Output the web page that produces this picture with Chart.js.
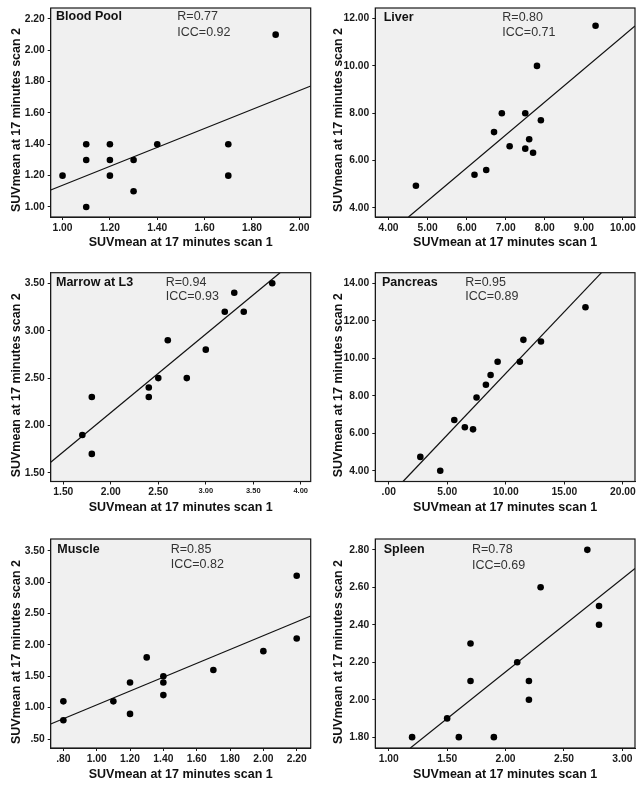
<!DOCTYPE html>
<html><head><meta charset="utf-8">
<script src="https://cdn.jsdelivr.net/npm/chart.js@4.4.1/dist/chart.umd.min.js"></script>
<style>
html,body{margin:0;padding:0;background:#fff;}
#wrap{position:relative;width:644px;height:788px;overflow:hidden;}
.cell{position:absolute;}
</style></head><body><div id="wrap"></div>
<script>
// ---------- DATA ----------
const xAxisTitle = 'SUVmean at 17 minutes scan 1';
const yAxisTitle = 'SUVmean at 17 minutes scan 2';
const panelNames = ['Blood Pool', 'Liver', 'Marrow at L3', 'Pancreas', 'Muscle', 'Spleen'];
const rValues = ['0.77', '0.80', '0.94', '0.95', '0.85', '0.78'];
const iccValues = ['0.92', '0.71', '0.93', '0.89', '0.82', '0.69'];

const bloodPoolScan1 = [1.0, 1.1, 1.1, 1.1, 1.2, 1.2, 1.2, 1.3, 1.3, 1.4, 1.7, 1.7, 1.9];
const bloodPoolScan2 = [1.2, 1.4, 1.3, 1.0, 1.4, 1.3, 1.2, 1.3, 1.1, 1.4, 1.4, 1.2, 2.1];
const liverScan1 = [4.7, 6.2, 6.5, 6.7, 6.9, 7.1, 7.5, 7.5, 7.6, 7.7, 7.8, 7.9, 9.3];
const liverScan2 = [4.93, 5.4, 5.6, 7.2, 8.0, 6.6, 8.0, 6.5, 6.9, 6.33, 10.0, 7.7, 11.7];
const marrowScan1 = [1.7, 1.8, 1.8, 2.4, 2.4, 2.5, 2.6, 2.8, 3.0, 3.2, 3.3, 3.4, 3.7];
const marrowScan2 = [1.9, 2.3, 1.7, 2.4, 2.3, 2.5, 2.9, 2.5, 2.8, 3.2, 3.4, 3.2, 3.5];
const pancreasScan1 = [2.7, 4.4, 5.6, 6.5, 7.2, 7.5, 8.3, 8.7, 9.3, 11.2, 11.5, 13.0, 16.8];
const pancreasScan2 = [4.74, 4.0, 6.71, 6.32, 6.21, 7.91, 8.59, 9.11, 9.81, 9.81, 10.98, 10.89, 12.72];
const muscleScan1 = [0.8, 0.8, 1.1, 1.2, 1.2, 1.3, 1.4, 1.4, 1.4, 1.7, 2.0, 2.2, 2.2];
const muscleScan2 = [1.1, 0.8, 1.1, 1.4, 0.9, 1.8, 1.5, 1.4, 1.2, 1.6, 1.9, 3.1, 2.1];
const spleenScan1 = [1.2, 1.5, 1.6, 1.7, 1.7, 1.9, 2.1, 2.2, 2.2, 2.3, 2.7, 2.8, 2.8];
const spleenScan2 = [1.8, 1.9, 1.8, 2.3, 2.1, 1.8, 2.2, 2.1, 2.0, 2.6, 2.8, 2.5, 2.4];

// fit-line end points
const bloodPoolFitX = [0.95, 2.048];   const bloodPoolFitY = [1.108, 1.772];
const liverFitX = [4.51, 10.31];       const liverFitY = [3.61, 11.69];
const marrowFitX = [1.367, 3.782];     const marrowFitY = [1.613, 3.612];
const pancreasFitX = [1.22, 18.17];    const pancreasFitY = [3.43, 14.56];
const muscleFitX = [0.724, 2.284];     const muscleFitY = [0.739, 2.459];
const spleenFitX = [1.185, 3.108];     const spleenFitY = [1.742, 2.70];

// axis tick labels
const bloodPoolXTicks = [1.0, 1.2, 1.4, 1.6, 1.8, 2.0];
const bloodPoolYTicks = [1.0, 1.2, 1.4, 1.6, 1.8, 2.0, 2.2];
const liverXTicks = [4, 5, 6, 7, 8, 9, 10];
const liverYTicks = [4, 6, 8, 10, 12];
const marrowXTicks = [1.5, 2.0, 2.5, 3.0, 3.5, 4.0];
const marrowYTicks = [1.5, 2.0, 2.5, 3.0, 3.5];
const pancreasXTicks = [0, 5, 10, 15, 20];
const pancreasYTicks = [4, 6, 8, 10, 12, 14];
const muscleXTicks = [0.8, 1.0, 1.2, 1.4, 1.6, 1.8, 2.0, 2.2];
const muscleYTicks = [0.5, 1.0, 1.5, 2.0, 2.5, 3.0, 3.5];
const spleenXTicks = [1.0, 1.5, 2.0, 2.5, 3.0];
const spleenYTicks = [1.8, 2.0, 2.2, 2.4, 2.6, 2.8];

// axis ranges
const bloodPoolXRange = [0.95, 2.048];  const bloodPoolYRange = [0.936, 2.27];
const liverXRange = [3.66, 10.31];      const liverYRange = [3.61, 12.45];
const marrowXRange = [1.367, 4.105];    const marrowYRange = [1.409, 3.612];
const pancreasXRange = [-1.145, 21.03]; const pancreasYRange = [3.43, 14.56];
const muscleXRange = [0.724, 2.284];    const muscleYRange = [0.357, 3.686];
const spleenXRange = [0.885, 3.108];    const spleenYRange = [1.742, 2.858];

// ---------- LAYOUT ----------
const FONT = '"Liberation Sans", Arial, Helvetica, sans-serif';
const rows = [
  {y: 0,   h: 262, top: 8,    bottom: 217,   xTitleC: 242.7, yTitleC: 120},
  {y: 262, h: 262, top: 10.7, bottom: 219.5, xTitleC: 246,   yTitleC: 123.3},
  {y: 524, h: 264, top: 15,   bottom: 224,   xTitleC: 250.7, yTitleC: 128}
];
const cols = [
  {x: 0,   w: 322, left: 50.7, right: 310.7, yTitleC: 16.2},
  {x: 322, w: 322, left: 53.3, right: 313,   yTitleC: 16.2}
];
const textPos = [
  {nx: 5.3, ny: 8.7,  rx: 126.6, ry: 8.7,  iy: 24.3},
  {nx: 8.4, ny: 9.7,  rx: 127,   ry: 9.7,  iy: 24.7},
  {nx: 5.3, ny: 10,   rx: 115,   ry: 10,   iy: 24.3},
  {nx: 6.7, ny: 10,   rx: 90,    ry: 10,   iy: 24.3},
  {nx: 6.6, ny: 10.3, rx: 120,   ry: 10.3, iy: 25.7},
  {nx: 8.4, ny: 11,   rx: 96.7,  ry: 11,   iy: 26.7}
];

const panels = [
  {s1: bloodPoolScan1, s2: bloodPoolScan2, fx: bloodPoolFitX, fy: bloodPoolFitY, xt: bloodPoolXTicks, yt: bloodPoolYTicks, xr: bloodPoolXRange, yr: bloodPoolYRange},
  {s1: liverScan1, s2: liverScan2, fx: liverFitX, fy: liverFitY, xt: liverXTicks, yt: liverYTicks, xr: liverXRange, yr: liverYRange},
  {s1: marrowScan1, s2: marrowScan2, fx: marrowFitX, fy: marrowFitY, xt: marrowXTicks, yt: marrowYTicks, xr: marrowXRange, yr: marrowYRange},
  {s1: pancreasScan1, s2: pancreasScan2, fx: pancreasFitX, fy: pancreasFitY, xt: pancreasXTicks, yt: pancreasYTicks, xr: pancreasXRange, yr: pancreasYRange},
  {s1: muscleScan1, s2: muscleScan2, fx: muscleFitX, fy: muscleFitY, xt: muscleXTicks, yt: muscleYTicks, xr: muscleXRange, yr: muscleYRange},
  {s1: spleenScan1, s2: spleenScan2, fx: spleenFitX, fy: spleenFitY, xt: spleenXTicks, yt: spleenYTicks, xr: spleenXRange, yr: spleenYRange}
];

function fmt(v) {
  let s = Number(v).toFixed(2);
  if (s.startsWith('0.')) s = s.slice(1);
  return s;
}

const boxPlugin = {
  id: 'panelBox',
  beforeDraw(chart) {
    const a = chart.chartArea, ctx = chart.ctx;
    ctx.save();
    ctx.fillStyle = '#f0f0f0';
    ctx.fillRect(a.left, a.top, a.right - a.left, a.bottom - a.top);
    ctx.restore();
  },
  afterDraw(chart, args, opts) {
    const a = chart.chartArea, ctx = chart.ctx;
    ctx.save();
    ctx.strokeStyle = '#1a1a1a';
    ctx.lineWidth = 1.2;
    ctx.strokeRect(a.left, a.top, a.right - a.left, a.bottom - a.top);
    ctx.textBaseline = 'middle';
    ctx.textAlign = 'left';
    ctx.fillStyle = '#111';
    ctx.font = 'bold 12.5px ' + FONT;
    ctx.fillText(opts.name, a.left + opts.pos.nx, a.top + opts.pos.ny);
    ctx.fillStyle = '#333';
    ctx.font = '12.5px ' + FONT;
    ctx.fillText('R=' + opts.r, a.left + opts.pos.rx, a.top + opts.pos.ry);
    ctx.fillText('ICC=' + opts.icc, a.left + opts.pos.rx, a.top + opts.pos.iy);
    // y-axis title (rotated)
    ctx.translate(opts.yTitleX, opts.yTitleY);
    ctx.rotate(-Math.PI / 2);
    ctx.textAlign = 'center';
    ctx.fillStyle = '#111';
    ctx.font = 'bold 12.5px ' + FONT;
    ctx.fillText(yAxisTitle, 0, 0);
    ctx.restore();
  }
};

const wrap = document.getElementById('wrap');
panels.forEach((p, i) => {
  const row = rows[Math.floor(i / 2)], col = cols[i % 2];
  const div = document.createElement('div');
  div.className = 'cell';
  div.style.left = col.x + 'px'; div.style.top = row.y + 'px';
  div.style.width = col.w + 'px'; div.style.height = row.h + 'px';
  const cv = document.createElement('canvas');
  cv.width = col.w; cv.height = row.h;
  div.appendChild(cv); wrap.appendChild(div);

  const pts = p.s1.map((x, k) => ({x: x, y: p.s2[k]}));
  const fit = p.fx.map((x, k) => ({x: x, y: p.fy[k]}));
  const tickFont = {family: FONT, size: 10.3, weight: 'bold'};
  const xFontFn = (i === 2)
    ? (ctx) => (ctx.tick && ctx.tick.value >= 3 ? {family: FONT, size: 7.5, weight: 'bold'} : tickFont)
    : tickFont;

  new Chart(cv, {
    type: 'scatter',
    data: {
      datasets: [
        {data: pts, backgroundColor: '#000', borderColor: '#000', pointRadius: 3.3, pointBorderWidth: 0},
        {data: fit, showLine: true, borderColor: '#111', borderWidth: 1.2, pointRadius: 0, fill: false}
      ]
    },
    plugins: [boxPlugin],
    options: {
      responsive: false, animation: false, events: [],
      layout: {padding: {left: 0, bottom: 0, top: row.top, right: col.w - col.right}},
      plugins: {
        legend: {display: false}, tooltip: {enabled: false},
        panelBox: {name: panelNames[i], r: rValues[i], icc: iccValues[i], pos: textPos[i],
                   yTitleX: col.yTitleC, yTitleY: row.yTitleC}
      },
      scales: {
        x: {
          type: 'linear', position: 'bottom', min: p.xr[0], max: p.xr[1],
          afterBuildTicks: (s) => { s.ticks = p.xt.map(v => ({value: v})); },
          afterFit: (s) => { s.height = row.h - row.bottom; s.paddingLeft = 0; s.paddingRight = 0; },
          ticks: {autoSkip: false, maxRotation: 0, color: '#1a1a1a', padding: 1.5, font: xFontFn, callback: (v) => fmt(v)},
          grid: {display: true, drawOnChartArea: false, drawTicks: true, tickLength: 3, color: '#1a1a1a', lineWidth: 1},
          border: {display: true, color: '#1a1a1a'},
          title: {display: true, text: xAxisTitle, color: '#111', font: {family: FONT, size: 12.5, weight: 'bold'},
                  padding: {top: 0, bottom: row.h - row.xTitleC - 7.5}}
        },
        y: {
          type: 'linear', position: 'left', min: p.yr[0], max: p.yr[1],
          afterBuildTicks: (s) => { s.ticks = p.yt.map(v => ({value: v})); },
          afterFit: (s) => { s.width = col.left; s.paddingTop = 0; s.paddingBottom = 0; },
          ticks: {autoSkip: false, color: '#1a1a1a', padding: 3, font: tickFont, callback: (v) => fmt(v)},
          grid: {display: true, drawOnChartArea: false, drawTicks: true, tickLength: 3, color: '#1a1a1a', lineWidth: 1},
          border: {display: true, color: '#1a1a1a'},
          title: {display: false}
        }
      }
    }
  });
});
</script>
</body></html>
